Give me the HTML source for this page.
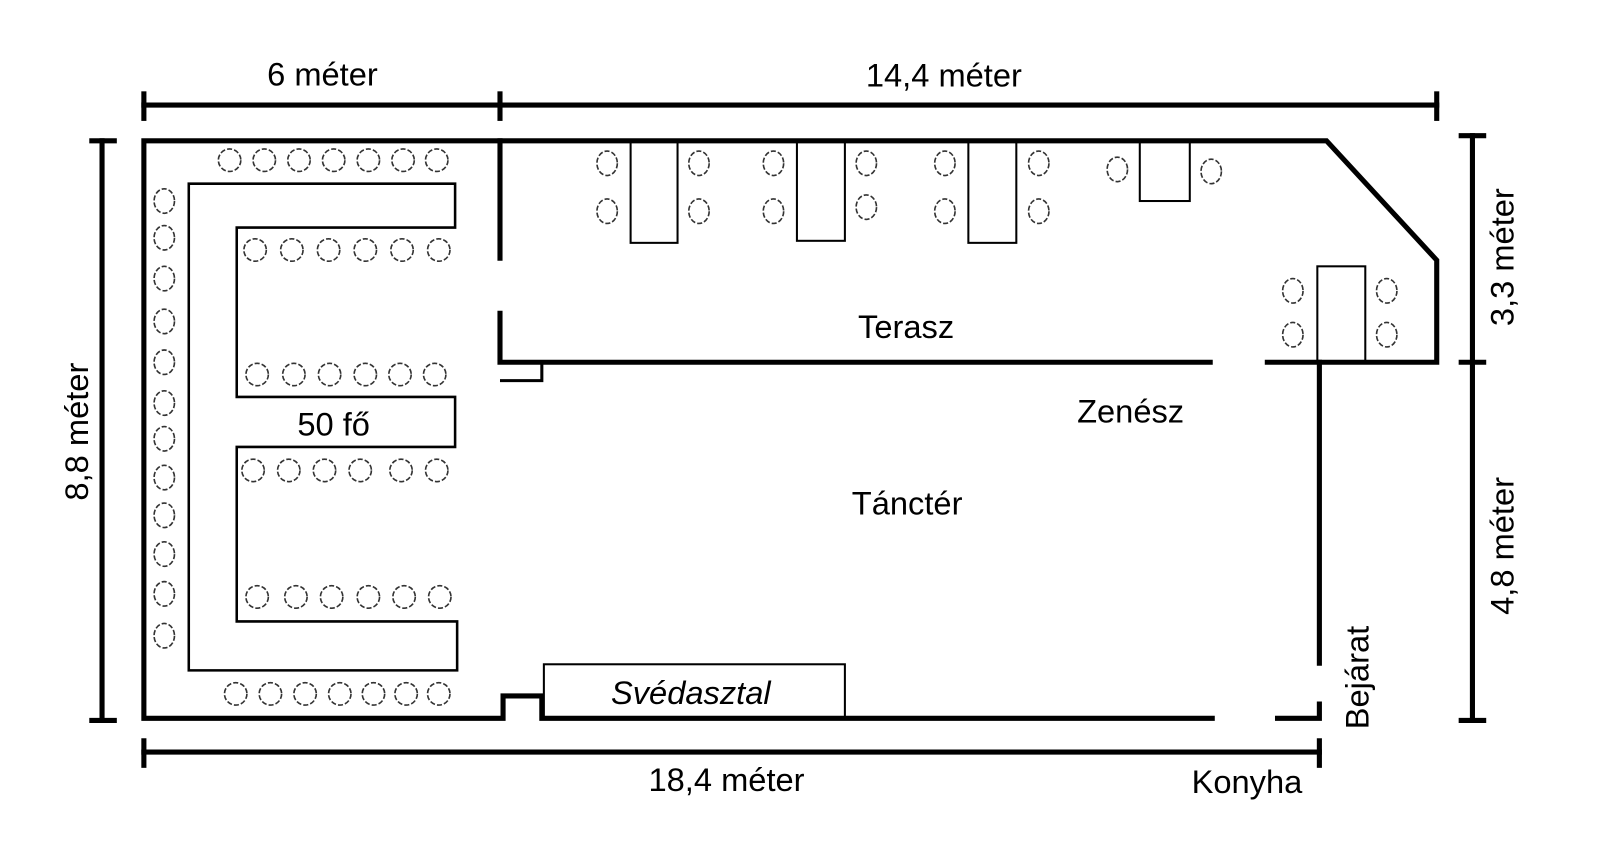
<!DOCTYPE html>
<html><head><meta charset="utf-8"><style>body{margin:0;background:#fff}svg{display:block}</style></head><body>
<svg width="1600" height="858" xmlns="http://www.w3.org/2000/svg" font-family="Liberation Sans, sans-serif" font-size="32">
<rect width="1600" height="858" fill="#fff"/>
<g transform="scale(1.0204)">
<g stroke="#000" stroke-width="5" fill="none" stroke-linecap="square">
<line x1="141" y1="103" x2="1408" y2="103"/>
<line x1="141" y1="92" x2="141" y2="116"/><line x1="490" y1="92" x2="490" y2="116"/><line x1="1408" y1="92" x2="1408" y2="116"/>
<line x1="100" y1="138" x2="100" y2="706"/>
<line x1="90" y1="138" x2="112" y2="138"/><line x1="90" y1="706" x2="112" y2="706"/>
<line x1="1443" y1="133" x2="1443" y2="706"/>
<line x1="1432" y1="133" x2="1454" y2="133"/><line x1="1432" y1="355" x2="1454" y2="355"/><line x1="1432" y1="706" x2="1454" y2="706"/>
<line x1="141" y1="737" x2="1293" y2="737"/>
<line x1="141" y1="726" x2="141" y2="750"/><line x1="1293" y1="726" x2="1293" y2="750"/>
<polyline points="1188,704 531,704 531,682 493,682 493,704 141,704 141,138 1300,138 1408,255 1408,355 1242,355"/>
<line x1="490" y1="138" x2="490" y2="253"/>
<polyline points="490,307 490,355 1186,355"/>
<polyline points="1293,355 1293,650"/>
<polyline points="1252,704 1293,704 1293,690"/>
</g>
<g stroke="#000" stroke-width="3" fill="none">
<polyline points="490,373 531,373 531,355"/>
<polygon points="185,180 446,180 446,223 232,223 232,389 446,389 446,438 232,438 232,609 448,609 448,657 185,657" stroke-width="2.5"/>
<rect x="533" y="651" width="295" height="53" stroke-width="2"/>
<rect x="618" y="138" width="46" height="100" stroke-width="2"/>
<rect x="781" y="138" width="47" height="98" stroke-width="2"/>
<rect x="949" y="138" width="47" height="100" stroke-width="2"/>
<rect x="1117" y="138" width="49" height="59" stroke-width="2"/>
<rect x="1291" y="261" width="47" height="94" stroke-width="2"/>
</g>
<g stroke="#333" stroke-width="1.6" fill="none" stroke-dasharray="5,2">
<ellipse cx="225" cy="157" rx="11" ry="11"/><ellipse cx="259" cy="157" rx="11" ry="11"/><ellipse cx="293" cy="157" rx="11" ry="11"/><ellipse cx="327" cy="157" rx="11" ry="11"/><ellipse cx="361" cy="157" rx="11" ry="11"/><ellipse cx="395" cy="157" rx="11" ry="11"/><ellipse cx="428" cy="157" rx="11" ry="11"/>
<ellipse cx="231" cy="680" rx="11" ry="11"/><ellipse cx="265" cy="680" rx="11" ry="11"/><ellipse cx="299" cy="680" rx="11" ry="11"/><ellipse cx="333" cy="680" rx="11" ry="11"/><ellipse cx="366" cy="680" rx="11" ry="11"/><ellipse cx="398" cy="680" rx="11" ry="11"/><ellipse cx="430" cy="680" rx="11" ry="11"/>
<ellipse cx="250" cy="245" rx="11" ry="11"/><ellipse cx="286" cy="245" rx="11" ry="11"/><ellipse cx="322" cy="245" rx="11" ry="11"/><ellipse cx="358" cy="245" rx="11" ry="11"/><ellipse cx="394" cy="245" rx="11" ry="11"/><ellipse cx="430" cy="245" rx="11" ry="11"/>
<ellipse cx="252" cy="367" rx="11" ry="11"/><ellipse cx="288" cy="367" rx="11" ry="11"/><ellipse cx="323" cy="367" rx="11" ry="11"/><ellipse cx="358" cy="367" rx="11" ry="11"/><ellipse cx="392" cy="367" rx="11" ry="11"/><ellipse cx="426" cy="367" rx="11" ry="11"/>
<ellipse cx="248" cy="461" rx="11" ry="11"/><ellipse cx="283" cy="461" rx="11" ry="11"/><ellipse cx="318" cy="461" rx="11" ry="11"/><ellipse cx="353" cy="461" rx="11" ry="11"/><ellipse cx="393" cy="461" rx="11" ry="11"/><ellipse cx="428" cy="461" rx="11" ry="11"/>
<ellipse cx="252" cy="585" rx="11" ry="11"/><ellipse cx="290" cy="585" rx="11" ry="11"/><ellipse cx="325" cy="585" rx="11" ry="11"/><ellipse cx="361" cy="585" rx="11" ry="11"/><ellipse cx="396" cy="585" rx="11" ry="11"/><ellipse cx="431" cy="585" rx="11" ry="11"/>
<ellipse cx="161" cy="197" rx="10" ry="12"/><ellipse cx="161" cy="233" rx="10" ry="12"/><ellipse cx="161" cy="273" rx="10" ry="12"/><ellipse cx="161" cy="315" rx="10" ry="12"/><ellipse cx="161" cy="355" rx="10" ry="12"/><ellipse cx="161" cy="395" rx="10" ry="12"/><ellipse cx="161" cy="430" rx="10" ry="12"/><ellipse cx="161" cy="468" rx="10" ry="12"/><ellipse cx="161" cy="505" rx="10" ry="12"/><ellipse cx="161" cy="543" rx="10" ry="12"/><ellipse cx="161" cy="582" rx="10" ry="12"/><ellipse cx="161" cy="623" rx="10" ry="12"/>
<ellipse cx="595" cy="160" rx="10" ry="12"/><ellipse cx="595" cy="207" rx="10" ry="12"/><ellipse cx="685" cy="160" rx="10" ry="12"/><ellipse cx="685" cy="207" rx="10" ry="12"/>
<ellipse cx="758" cy="160" rx="10" ry="12"/><ellipse cx="758" cy="207" rx="10" ry="12"/><ellipse cx="849" cy="160" rx="10" ry="12"/><ellipse cx="849" cy="203" rx="10" ry="12"/>
<ellipse cx="926" cy="160" rx="10" ry="12"/><ellipse cx="926" cy="207" rx="10" ry="12"/><ellipse cx="1018" cy="160" rx="10" ry="12"/><ellipse cx="1018" cy="207" rx="10" ry="12"/>
<ellipse cx="1095" cy="166" rx="10" ry="12"/><ellipse cx="1187" cy="168" rx="10" ry="12"/>
<ellipse cx="1267" cy="285" rx="10" ry="12"/><ellipse cx="1267" cy="328" rx="10" ry="12"/><ellipse cx="1359" cy="285" rx="10" ry="12"/><ellipse cx="1359" cy="328" rx="10" ry="12"/>
</g>
<g fill="#000">
<text x="316" y="84" text-anchor="middle">6 méter</text>
<text x="925" y="85" text-anchor="middle">14,4 méter</text>
<text x="712" y="775" text-anchor="middle">18,4 méter</text>
<text x="1222" y="777" text-anchor="middle">Konyha</text>
<text x="888" y="331" text-anchor="middle">Terasz</text>
<text x="1108" y="414" text-anchor="middle">Zenész</text>
<text x="889" y="504" text-anchor="middle">Tánctér</text>
<text x="327" y="427" text-anchor="middle">50 fő</text>
<text x="677" y="690" text-anchor="middle" font-style="italic">Svédasztal</text>
<text transform="translate(86,423) rotate(-90)" text-anchor="middle">8,8 méter</text>
<text transform="translate(1483,252) rotate(-90)" text-anchor="middle">3,3 méter</text>
<text transform="translate(1483,535) rotate(-90)" text-anchor="middle">4,8 méter</text>
<text transform="translate(1341,664) rotate(-90)" text-anchor="middle">Bejárat</text>
</g>
</g>
</svg>
</body></html>
